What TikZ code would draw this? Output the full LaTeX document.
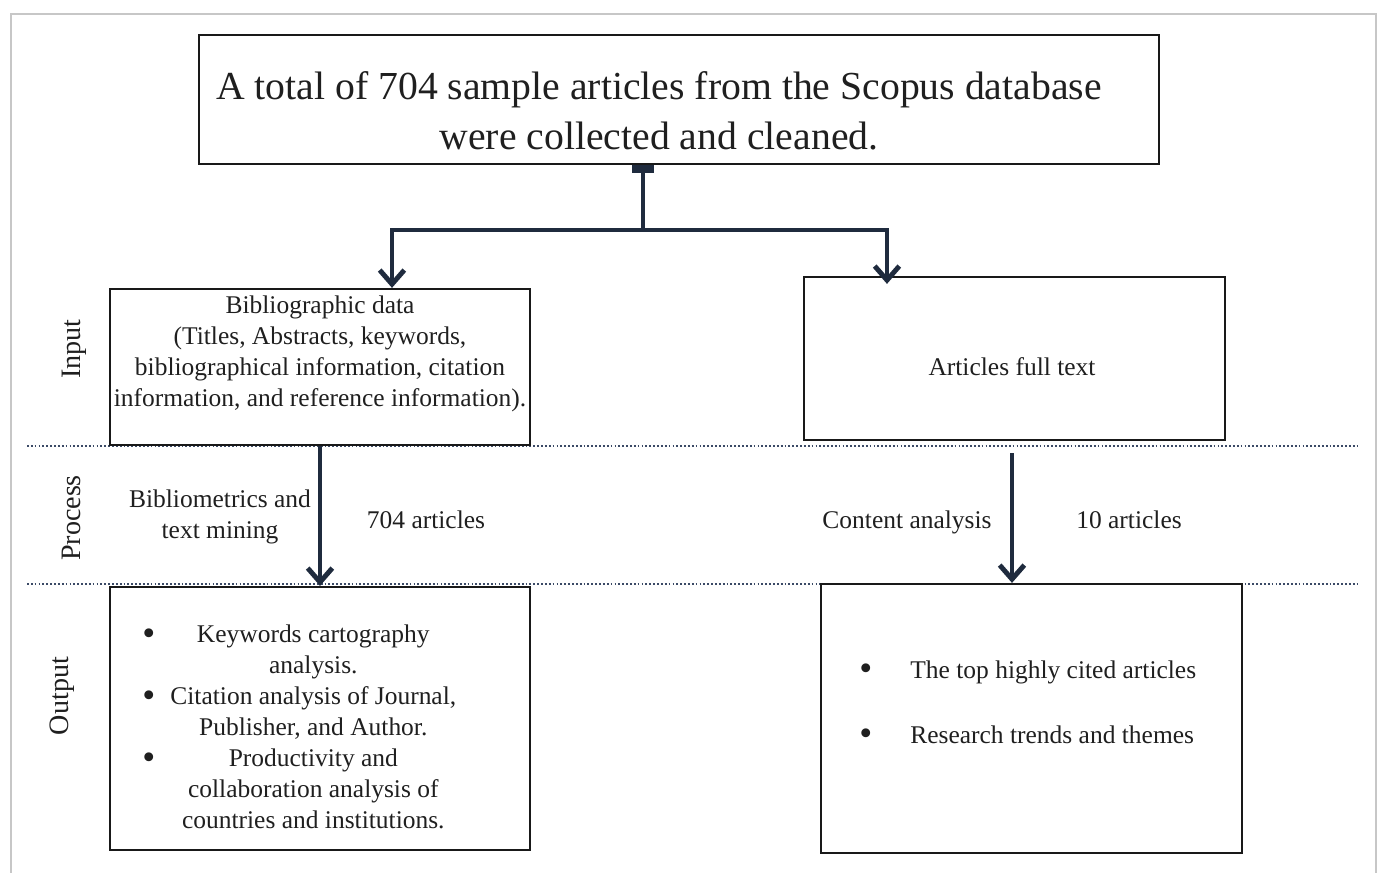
\documentclass[tikz,border=0pt]{standalone}
\usepackage{fontspec}
\setmainfont{Liberation Serif}
\usetikzlibrary{arrows.meta}
\definecolor{arrowblue}{HTML}{1F2B3E}
\definecolor{dotblue}{HTML}{3B4A66}
\newcommand{\bigdot}{\raisebox{-0.1em}{\scalebox{1.45}{\textbullet}}}
\newcommand{\outitem}[1]{\makebox[0.48cm][l]{\bigdot}\makebox[5.88cm]{#1}}
\newcommand{\outcont}[1]{\makebox[0.48cm]{}\makebox[5.88cm]{#1}}

\begin{document}
\begin{tikzpicture}[x=0.02cm, y=-0.02cm, line join=miter,
	stagebox/.style={draw=black!90, line width=1.3pt, inner sep=0pt},
	txt/.style={inner sep=0pt, align=center, text=black!88, font=\fontsize{14.5}{17.6}\selectfont},
	bigtxt/.style={inner sep=0pt, align=center, text=black!88, font=\fontsize{22.6}{28.5}\selectfont},
	side/.style={inner sep=0pt, rotate=90, anchor=base, text=black!88, font=\fontsize{16}{19}\selectfont},
	flow/.style={draw=arrowblue, line width=2.8pt, -{Straight Barb[length=8pt, width=14pt]}},
	sep/.style={draw=dotblue, line width=1pt, dash pattern=on 1pt off 1.2pt},
	outerframe/.style={draw=black!22, line width=1.2pt}]
	\useasboundingbox (0,0) rectangle (1382,872);
	\clip (0,0) rectangle (1382,872);
	\draw[outerframe] (11,890) -- (11,14) -- (1376,14) -- (1376,890);
	\draw[sep] (27,446) -- (1360,446);
	\draw[sep] (27,584) -- (1360,584);

	\node[stagebox, minimum width=19.2cm, minimum height=2.58cm] (top) at (679,99.5) {};
	\node[bigtxt] (toptxt) at (659,111) {A total of 704 sample articles from the Scopus database\\were collected and cleaned.};

	\node[stagebox, minimum width=8.4cm, minimum height=3.12cm] (bib) at (320,367) {};
	\node[txt] (bibtxt) at (320,354) {Bibliographic data\\(Titles, Abstracts, keywords,\\bibliographical information, citation\\information, and reference information).};
	\node[stagebox, minimum width=8.42cm, minimum height=3.26cm] (full) at (1014.5,358.5) {};
	\node[txt, anchor=base] (fulltxt) at (1012,375) {Articles full text};

	\node[stagebox, minimum width=8.4cm, minimum height=5.26cm] (outL) at (320,718.5) {};
	\node[txt, anchor=west, align=left] (outLtxt) at (142,727) {\outitem{Keywords cartography}\\\outcont{analysis.}\\\outitem{Citation analysis of Journal,}\\\outcont{Publisher, and Author.}\\\outitem{Productivity and}\\\outcont{collaboration analysis of}\\\outcont{countries and institutions.}};
	\node[stagebox, minimum width=8.42cm, minimum height=5.38cm] (outR) at (1031.5,718.5) {};
	\node[txt, anchor=west, align=left, font=\fontsize{14.5}{37}\selectfont] (outRtxt) at (859,703) {\makebox[1.02cm][l]{\bigdot}The top highly cited articles\\\makebox[1.02cm][l]{\bigdot}Research trends and themes};

	\node[txt] (biblio) at (220,517) {Bibliometrics and\\text mining};
	\node[txt, anchor=base] (n704) at (426,528) {704 articles};
	\node[txt, anchor=base] (content) at (907,528) {Content analysis};
	\node[txt, anchor=base] (n10) at (1129,528) {10 articles};

	\node[side] (input) at (80,349) {Input};
	\node[side] (process) at (80,518) {Process};
	\node[side] (output) at (68,696) {Output};

	\coordinate (split) at (643,230);
	\coordinate (lt) at (392,230);
	\coordinate (rt) at (887,230);
	\coordinate (ca) at (1012,453);
	\draw[flow, {Rectangle[length=4.5pt, width=12.5pt]}-] (top.south -| split) -- (split);
	\draw[flow, {Straight Barb[length=8pt, width=14pt]}-{Straight Barb[length=8pt, width=14pt]}, shorten >=-0.16cm] (lt |- bib.north) -- (lt) -- (rt) -- (rt |- full.north);
	\draw[flow] (bib.south) -- (bib.south |- outL.north);
	\draw[flow] (ca) -- (ca |- outR.north);
\end{tikzpicture}
\end{document}
